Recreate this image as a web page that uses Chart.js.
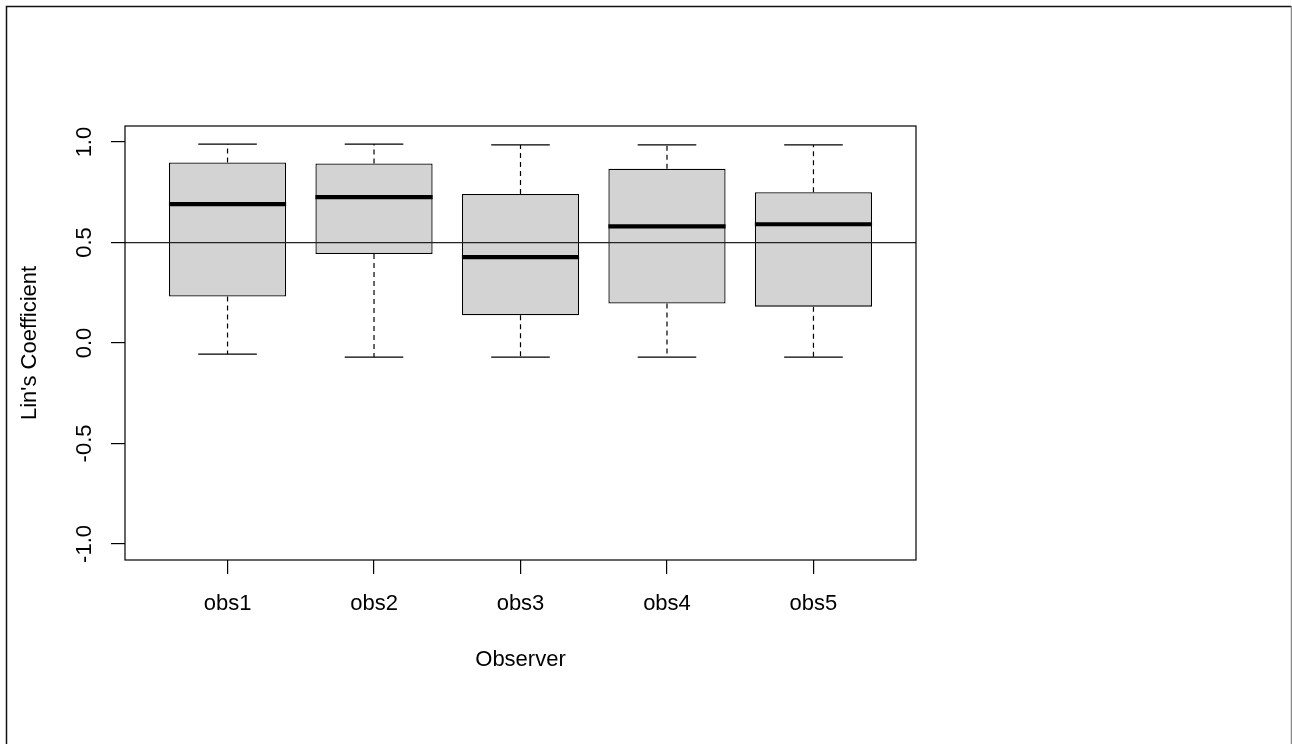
<!DOCTYPE html>
<html>
<head>
<meta charset="utf-8">
<script src="https://cdn.jsdelivr.net/npm/chart.js@4/dist/chart.umd.min.js"></script>
<style>
  html, body { margin: 0; padding: 0; background: #fff; }
  #wrap { width: 1292px; height: 744px; position: relative; }
</style>
</head>
<body>
<div id="wrap"><canvas id="c" width="1292" height="744"></canvas></div>
<script>
// ---- data ----
const categories = ['obs1', 'obs2', 'obs3', 'obs4', 'obs5'];
const whiskerLow = [-0.055, -0.070, -0.070, -0.070, -0.070];
const q1Values   = [0.231, 0.443, 0.138, 0.196, 0.181];
const medians    = [0.691, 0.726, 0.427, 0.580, 0.591];
const q3Values   = [0.898, 0.893, 0.742, 0.867, 0.750];
const whiskerHigh= [0.990, 0.990, 0.986, 0.986, 0.986];
const yTickValues = [-1.0, -0.5, 0.0, 0.5, 1.0];
const referenceLine = 0.5;
const xTitle = 'Observer';
const yTitle = "Lin's Coefficient";

const FONT = "'Liberation Sans', Arial, sans-serif";

const boxPlugin = {
  id: 'boxExtras',
  beforeDraw(chart) {
    const ctx = chart.ctx;
    ctx.save();
    ctx.fillStyle = '#fff';
    ctx.fillRect(0, 0, chart.width, chart.height);
    // outer page frame
    ctx.strokeStyle = '#111';
    ctx.lineWidth = 1.5;
    ctx.beginPath();
    ctx.moveTo(6.5, 744); ctx.lineTo(6.5, 6.5); ctx.lineTo(1291, 6.5);
    ctx.stroke();
    ctx.strokeStyle = '#888';
    ctx.beginPath();
    ctx.moveTo(1291.5, 6); ctx.lineTo(1291.5, 744);
    ctx.stroke();
    ctx.restore();
  },
  afterDatasetsDraw(chart) {
    const ctx = chart.ctx;
    const xs = chart.scales.x, ys = chart.scales.y;
    const capHalf = (xs.getPixelForValue(1.2) - xs.getPixelForValue(1.0));
    const boxHalf = (xs.getPixelForValue(1.4) - xs.getPixelForValue(1.0));
    ctx.save();
    categories.forEach((c, i) => {
      const cx = xs.getPixelForValue(i + 1);
      const yLo = ys.getPixelForValue(whiskerLow[i]);
      const yQ1 = ys.getPixelForValue(q1Values[i]);
      const yMed = ys.getPixelForValue(medians[i]);
      const yQ3 = ys.getPixelForValue(q3Values[i]);
      const yHi = ys.getPixelForValue(whiskerHigh[i]);
      // dashed whiskers
      ctx.strokeStyle = '#000';
      ctx.lineWidth = 1.2;
      ctx.setLineDash([5, 4]);
      ctx.beginPath();
      ctx.moveTo(cx, yQ3); ctx.lineTo(cx, yHi);
      ctx.moveTo(cx, yQ1); ctx.lineTo(cx, yLo);
      ctx.stroke();
      ctx.setLineDash([]);
      // caps
      ctx.beginPath();
      ctx.moveTo(cx - capHalf, yHi); ctx.lineTo(cx + capHalf, yHi);
      ctx.moveTo(cx - capHalf, yLo); ctx.lineTo(cx + capHalf, yLo);
      ctx.stroke();
      // median
      ctx.lineWidth = 4.2;
      ctx.beginPath();
      ctx.moveTo(cx - boxHalf, yMed); ctx.lineTo(cx + boxHalf, yMed);
      ctx.stroke();
    });
    // reference line
    const yRef = ys.getPixelForValue(referenceLine);
    ctx.strokeStyle = '#222';
    ctx.lineWidth = 1.2;
    ctx.beginPath();
    ctx.moveTo(chart.chartArea.left, yRef); ctx.lineTo(chart.chartArea.right, yRef);
    ctx.stroke();
    // plot box
    const a = chart.chartArea;
    ctx.strokeStyle = '#000';
    ctx.lineWidth = 1.2;
    ctx.strokeRect(a.left, a.top, a.right - a.left, a.bottom - a.top);
    ctx.restore();
  }
};

const boxData = categories.map((c, i) => ({ x: i + 1, y: [q1Values[i], q3Values[i]] }));

new Chart(document.getElementById('c'), {
  type: 'bar',
  data: {
    datasets: [{
      data: boxData,
      backgroundColor: '#D3D3D3',
      borderColor: '#000',
      borderWidth: 1.3,
      borderSkipped: false,
      barPercentage: 0.8,
      categoryPercentage: 1.0
    }]
  },
  options: {
    responsive: false,
    animation: false,
    devicePixelRatio: 1,
    layout: { padding: { left: 0, top: 126, right: 376, bottom: 0 } },
    plugins: { legend: { display: false }, tooltip: { enabled: false }, title: { display: false } },
    scales: {
      x: {
        type: 'linear',
        min: 0.3, max: 5.7,
        offset: false,
        afterBuildTicks: (s) => { s.ticks = categories.map((c, i) => ({ value: i + 1 })); },
        afterFit: (s) => { s.height = 184; },
        ticks: {
          autoSkip: false, maxRotation: 0, minRotation: 0,
          callback: (v) => categories[Math.round(v) - 1],
          color: '#000', font: { family: FONT, size: 22 }, padding: 17
        },
        grid: { drawOnChartArea: false, drawTicks: true, tickLength: 14, color: '#000', lineWidth: 1.2, offset: false },
        border: { display: false },
        title: { display: true, text: xTitle, color: '#000', font: { family: FONT, size: 22 }, padding: { top: 0, bottom: 71 } }
      },
      y: {
        type: 'linear',
        min: -1.08, max: 1.08,
        afterBuildTicks: (s) => { s.ticks = yTickValues.map(v => ({ value: v })); },
        afterFit: (s) => { s.width = 125; },
        ticks: {
          minRotation: 90, maxRotation: 90, crossAlign: 'center',
          callback: (v) => Number(v).toFixed(1),
          color: '#000', font: { family: FONT, size: 22 }, padding: 7
        },
        grid: { drawOnChartArea: false, drawTicks: true, tickLength: 14, color: '#000', lineWidth: 1.2 },
        border: { display: false },
        title: { display: true, text: yTitle, color: '#000', font: { family: FONT, size: 22 }, padding: { top: 17, bottom: 0 } }
      }
    }
  },
  plugins: [boxPlugin]
});
</script>
</body>
</html>
